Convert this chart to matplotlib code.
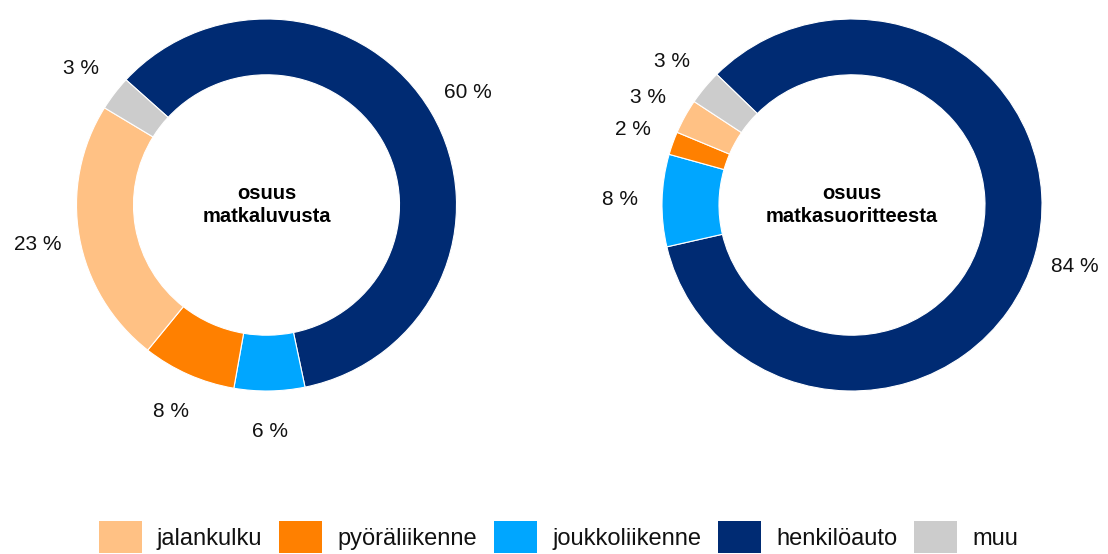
import matplotlib
matplotlib.use("Agg")
from matplotlib import pyplot as plt
from matplotlib.patches import Patch
import numpy as np

plt.rcParams['font.family'] = ['Liberation Sans', 'DejaVu Sans']

# data
categories = ["henkilöauto", "joukkoliikenne", "pyöräliikenne", "jalankulku", "muu"]
share_trips = [60, 6, 8, 23, 3]        # osuus matkaluvusta
share_km = [84, 8, 2, 3, 3]            # osuus matkasuoritteesta
center_titles = ["osuus\nmatkaluvusta", "osuus\nmatkasuoritteesta"]
colors = {
    "jalankulku": "#FFC184",
    "pyöräliikenne": "#FF8000",
    "joukkoliikenne": "#00A6FF",
    "henkilöauto": "#002B73",
    "muu": "#CCCCCC",
}
legend_order = ["jalankulku", "pyöräliikenne", "joukkoliikenne", "henkilöauto", "muu"]

W, H = 1108, 554
fig = plt.figure(figsize=(W / 100, H / 100), dpi=100)

RX, RY = 190, 186  # radii in px (chart slightly stretched horizontally)


def donut(cx, cy, values, title, start):
    ax = fig.add_axes([(cx - RX) / W, (H - cy - RY) / H, 2 * RX / W, 2 * RY / H])
    wedges, _ = ax.pie(values, colors=[colors[c] for c in categories],
                       startangle=start, counterclock=False, radius=1,
                       wedgeprops=dict(width=0.30, edgecolor="white", linewidth=0.8))
    for w, v in zip(wedges, values):
        ang = np.deg2rad((w.theta1 + w.theta2) / 2)
        ax.text(1.22 * np.cos(ang), 1.22 * np.sin(ang), f"{v} %",
                ha="center", va="center", fontsize=15, color="#111111")
    ax.text(0, 0, title, ha="center", va="center", fontsize=14.5,
            fontweight="bold", linespacing=1.25)
    ax.set_xlim(-1, 1)
    ax.set_ylim(-1, 1)
    ax.set_aspect("auto")
    ax.axis("off")


donut(266.5, 205, share_trips, center_titles[0], 137.7)
donut(852, 205, share_km, center_titles[1], 135.4)

handles = [Patch(facecolor=colors[c], edgecolor="none") for c in legend_order]
fig.legend(handles, legend_order, loc="lower center", bbox_to_anchor=(0.504, -0.02),
           ncol=5, frameon=False, fontsize=17, handlelength=1.82, handleheight=1.74,
           handletextpad=0.64, columnspacing=0.72, borderpad=0,
           labelcolor="#111111")

fig.savefig("out.png", dpi=100)
